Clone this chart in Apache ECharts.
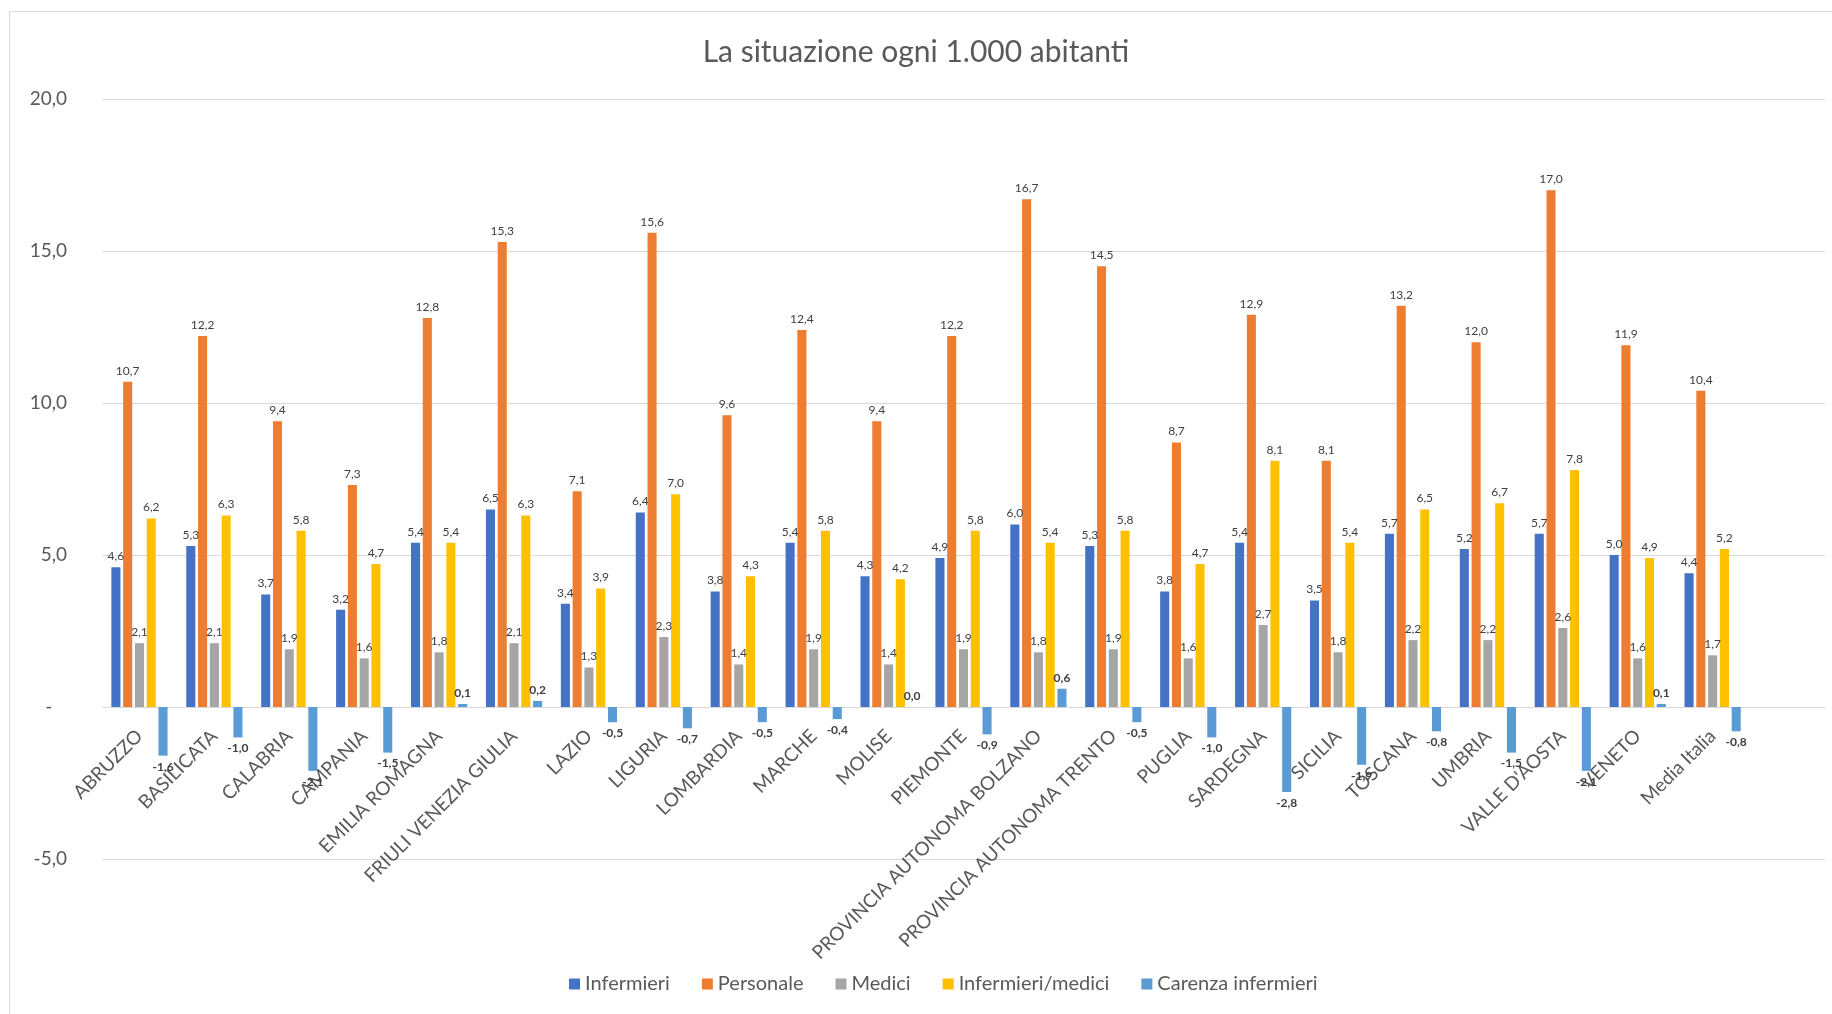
<!DOCTYPE html>
<html>
<head>
<meta charset="utf-8">
<title>La situazione ogni 1.000 abitanti</title>
<script src="https://cdn.jsdelivr.net/npm/echarts@6/dist/echarts.min.js"></script>
<style>
  html, body { margin: 0; padding: 0; background: #ffffff; }
  #chart { width: 1832px; height: 1014px; }
</style>
</head>
<body>
<div id="chart"></div>
<script>
// Regioni e media nazionale (l'ultima categoria della tabella è vuota)
const categories = [
  'ABRUZZO', 'BASILICATA', 'CALABRIA', 'CAMPANIA', 'EMILIA ROMAGNA',
  'FRIULI VENEZIA GIULIA', 'LAZIO', 'LIGURIA', 'LOMBARDIA', 'MARCHE',
  'MOLISE', 'PIEMONTE', 'PROVINCIA AUTONOMA BOLZANO', 'PROVINCIA AUTONOMA TRENTO',
  'PUGLIA', 'SARDEGNA', 'SICILIA', 'TOSCANA', 'UMBRIA', "VALLE D'AOSTA",
  'VENETO', 'Media Italia', ''
];

// Valori ogni 1.000 abitanti
const infermieri = [4.6, 5.3, 3.7, 3.2, 5.4, 6.5, 3.4, 6.4, 3.8, 5.4, 4.3, 4.9, 6.0, 5.3, 3.8, 5.4, 3.5, 5.7, 5.2, 5.7, 5.0, 4.4];
const personale = [10.7, 12.2, 9.4, 7.3, 12.8, 15.3, 7.1, 15.6, 9.6, 12.4, 9.4, 12.2, 16.7, 14.5, 8.7, 12.9, 8.1, 13.2, 12.0, 17.0, 11.9, 10.4];
const medici = [2.1, 2.1, 1.9, 1.6, 1.8, 2.1, 1.3, 2.3, 1.4, 1.9, 1.4, 1.9, 1.8, 1.9, 1.6, 2.7, 1.8, 2.2, 2.2, 2.6, 1.6, 1.7];
const infermieriMedici = [6.2, 6.3, 5.8, 4.7, 5.4, 6.3, 3.9, 7.0, 4.3, 5.8, 4.2, 5.8, 5.4, 5.8, 4.7, 8.1, 5.4, 6.5, 6.7, 7.8, 4.9, 5.2];
const carenzaInfermieri = [-1.6, -1.0, -2.1, -1.5, 0.1, 0.2, -0.5, -0.7, -0.5, -0.4, 0.0, -0.9, 0.6, -0.5, -1.0, -2.8, -1.9, -0.8, -1.5, -2.1, 0.1, -0.8];

// Tacche dell'asse dei valori
const yTicks = { min: -5, max: 20, interval: 5 };

const FONT = 'Lato, "Open Sans", sans-serif';
const TEXT = '#595959';

const GRID = { left: 102, right: 7, top: 99, bottom: 155 };
const CHART_H = 1014;
// the category axis sits on the zero line of the value axis
const plotH = CHART_H - GRID.top - GRID.bottom;
const zeroOffset = -((0 - yTicks.min) / (yTicks.max - yTicks.min)) * plotH;

const fmt = v => v.toFixed(1).replace('.', ',');

function barSeries(name, values, color, bold) {
  return {
    name: name,
    type: 'bar',
    data: values.map(v => ({
      value: v,
      label: { position: v < 0 ? 'bottom' : 'top' }
    })),
    itemStyle: { color: color },
    label: {
      show: true,
      distance: 5,
      fontFamily: FONT,
      fontSize: 12,
      fontWeight: bold ? 'bold' : 'normal',
      color: '#404040',
      formatter: p => fmt(p.value)
    }
  };
}

const chart = echarts.init(document.getElementById('chart'), null, { renderer: 'canvas' });

chart.setOption({
  animation: false,
  backgroundColor: '#ffffff',
  textStyle: { fontFamily: FONT },
  graphic: [{
    type: 'rect',
    shape: { x: 9.5, y: 11.5, width: 1840, height: 1020 },
    style: { fill: 'none', stroke: '#d9d9d9', lineWidth: 1 },
    silent: true,
    z: -1
  }],
  title: {
    text: 'La situazione ogni 1.000 abitanti',
    left: 'center',
    top: 32,
    textStyle: { fontFamily: FONT, fontSize: 30, fontWeight: 'normal', color: TEXT }
  },
  legend: {
    bottom: 15,
    left: 564,
    icon: 'rect',
    itemWidth: 11,
    itemHeight: 11,
    itemGap: 32,
    textStyle: { fontFamily: FONT, fontSize: 20, color: TEXT },
    data: ['Infermieri', 'Personale', 'Medici', 'Infermieri/medici', 'Carenza infermieri']
  },
  grid: {
    left: GRID.left,
    right: GRID.right,
    top: GRID.top,
    bottom: GRID.bottom,
    outerBoundsMode: 'none'
  },
  xAxis: {
    type: 'category',
    data: categories,
    position: 'bottom',
    offset: zeroOffset,
    axisLine: { onZero: false, lineStyle: { color: '#d9d9d9', width: 1 } },
    axisTick: { show: false },
    axisLabel: {
      interval: 0,
      rotate: 45,
      margin: 26,
      fontFamily: FONT,
      fontSize: 19,
      color: TEXT
    }
  },
  yAxis: {
    type: 'value',
    min: yTicks.min,
    max: yTicks.max,
    interval: yTicks.interval,
    axisLine: { show: false },
    axisTick: { show: false },
    splitLine: { lineStyle: { color: '#d9d9d9', width: 1 } },
    axisLabel: {
      margin: 35,
      fontFamily: FONT,
      fontSize: 19,
      color: TEXT,
      formatter: v => (v === 0 ? '-   ' : fmt(v))
    }
  },
  series: [
    Object.assign(barSeries('Infermieri', infermieri, '#4472c4', false), { barGap: '30%', barCategoryGap: '25%' }),
    barSeries('Personale', personale, '#ed7d31', false),
    barSeries('Medici', medici, '#a5a5a5', false),
    barSeries('Infermieri/medici', infermieriMedici, '#ffc000', false),
    barSeries('Carenza infermieri', carenzaInfermieri, '#5b9bd5', true)
  ]
});
</script>
</body>
</html>
